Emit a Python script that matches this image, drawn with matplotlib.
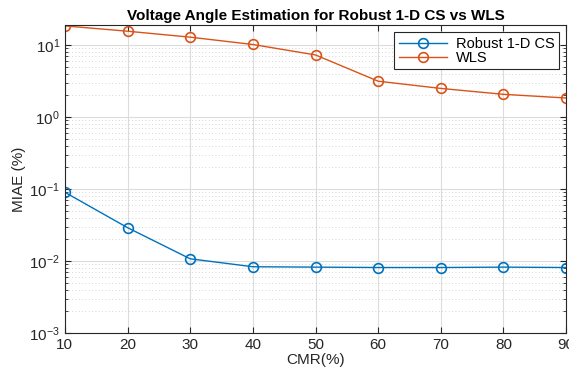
import matplotlib.pyplot as plt
from matplotlib.ticker import LogLocator, NullFormatter

plt.rcParams['font.family'] = ['Liberation Sans', 'DejaVu Sans']
plt.rcParams['mathtext.fontset'] = 'custom'
plt.rcParams['mathtext.rm'] = 'Liberation Sans'

cmr = [10, 20, 30, 40, 50, 60, 70, 80, 90]
robust_cs = [0.090, 0.029, 0.0107, 0.0083, 0.0082, 0.0081, 0.0081, 0.0082, 0.0081]
wls = [18.5, 15.6, 12.9, 10.2, 7.3, 3.15, 2.5, 2.07, 1.84]

fig = plt.figure(figsize=(5.69, 3.74), dpi=100)
ax = fig.add_axes([0.114, 0.110, 0.881, 0.823])

ax.plot(cmr, robust_cs, '-o', color='#0072BD', lw=1.0, ms=7, mfc='none',
        mew=1.2, label='Robust 1-D CS')
ax.plot(cmr, wls, '-o', color='#D95319', lw=1.0, ms=7, mfc='none',
        mew=1.2, label='WLS')

ax.set_yscale('log')
ax.set_xlim(10, 90)
ax.set_ylim(1e-3, 19)
ax.set_xticks(cmr)
ax.yaxis.set_major_locator(LogLocator(base=10, numticks=10))
ax.yaxis.set_minor_locator(LogLocator(base=10, subs=range(2, 10), numticks=10))
ax.yaxis.set_minor_formatter(NullFormatter())

ax.grid(True, which='major', color='#dcdcdc', lw=0.8)
ax.grid(True, which='minor', color='#c8c8c8', lw=0.6, ls=(0, (1, 3)))
ax.set_axisbelow(True)

ax.tick_params(which='both', direction='in', top=True, right=True,
               labelsize=11, colors='#262626')
ax.tick_params(which='major', length=4)
ax.tick_params(which='minor', length=2)
for s in ax.spines.values():
    s.set_color('#262626')
    s.set_linewidth(0.8)

ax.set_xlabel('CMR(%)', fontsize=11, color='#262626', labelpad=1)
ax.set_ylabel('MIAE (%)', fontsize=11, color='#262626', labelpad=2)
ax.set_title('Voltage Angle Estimation for Robust 1-D CS vs WLS',
             fontsize=11, fontweight='bold', pad=4)

leg = ax.legend(loc='upper right', fontsize=10.5, fancybox=False,
                framealpha=1, edgecolor='#262626', borderpad=0.3,
                handlelength=3.3, labelspacing=0.0, borderaxespad=0.5,
                handletextpad=0.6)
leg.get_frame().set_linewidth(0.8)

fig.savefig('out.png', dpi=100)
